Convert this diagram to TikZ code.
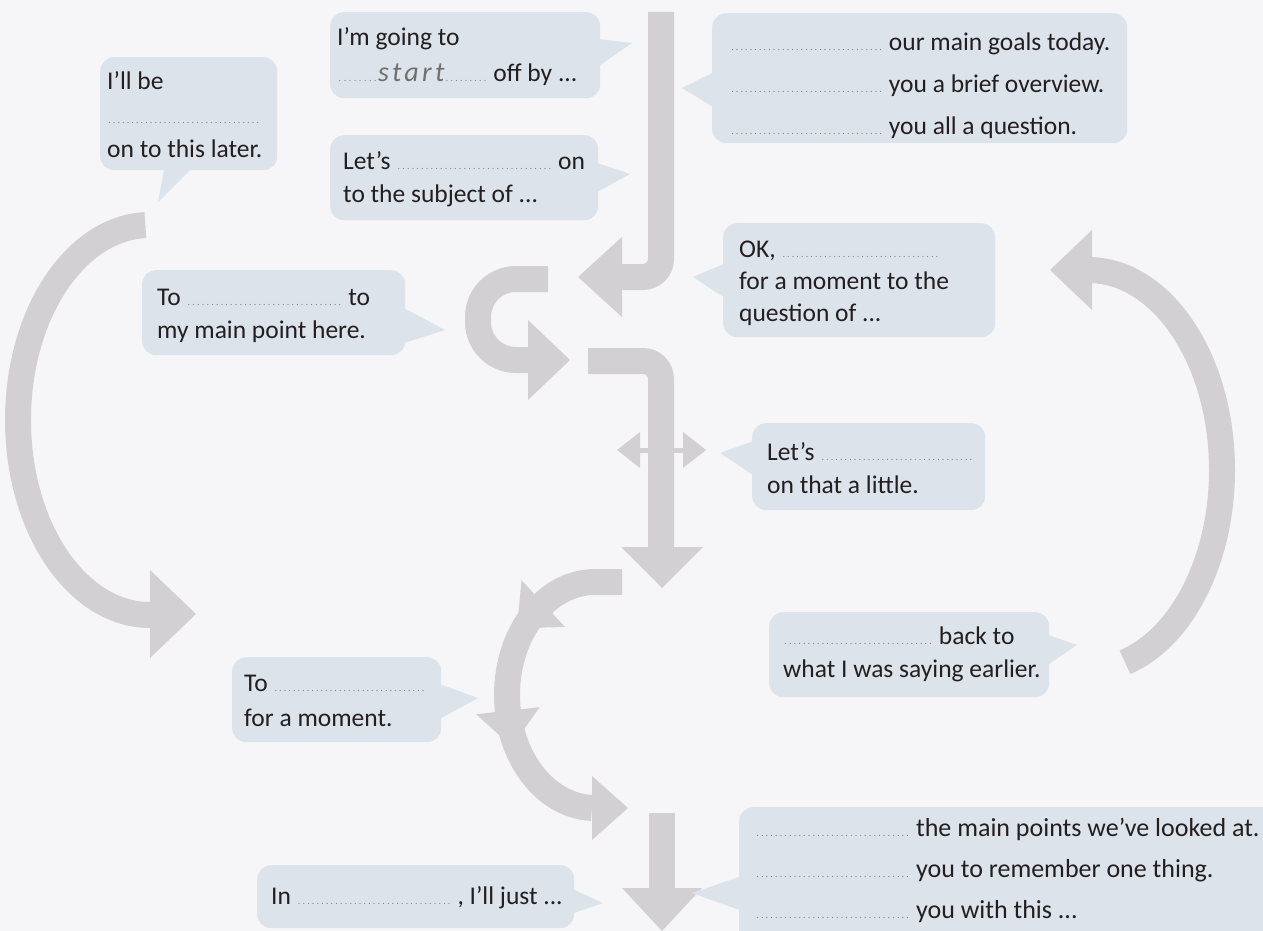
\documentclass[tikz,border=0pt]{standalone}
\usepackage{fontspec}
\setmainfont{Carlito}
\newfontfamily\handfont{Carlito}[LetterSpace=12]
\usetikzlibrary{calc}
\definecolor{bg}{HTML}{F6F6F9}
\definecolor{bub}{HTML}{DCE3EB}
\definecolor{arr}{HTML}{D3D0D3}
\definecolor{ink}{HTML}{231F20}
\definecolor{dotc}{HTML}{8A7F78}
\definecolor{hand}{HTML}{707070}
\newcommand\fillin[1]{\leavevmode{\color{dotc}\fontsize{10}{10}\selectfont\hbox to #1{\xleaders\hbox to 4.6pt{\hss.\hss}\hfil}}}
\tikzset{
  bubble/.style={fill=bub, rounded corners=14pt, inner sep=0pt, anchor=north west},
  txt/.style={inner sep=0pt, anchor=west, align=left, text=ink},
  fs/.style={font=\fontsize{25.5}{#1}\selectfont},
  arrowline/.style={draw=arr, line width=26pt},
}
\begin{document}
\begin{tikzpicture}[x=1pt,y=-1pt]
\useasboundingbox (0,0) rectangle (1263,931);
\clip (0,0) rectangle (1263,931);
\fill[bg] (0,0) rectangle (1263,931);

% ---------- arrows ----------
% big left arc
\draw[arrowline] (145.4,225.1) arc[start angle=268, end angle=90, x radius=132, y radius=195];
\fill[arr] (150,570) -- (196,614) -- (150,658) -- cycle;
% big right arc
\draw[arrowline] (1088,270) arc[start angle=-90, end angle=74, x radius=134, y radius=200];
\fill[arr] (1092,230) -- (1050,270) -- (1092,310) -- cycle;
% top L arrow (down then left)
\draw[arrowline, rounded corners=18pt] (661,12) |- (621,277);
\fill[arr] (622,237) -- (578,277) -- (622,317) -- cycle;
% C arrow
\draw[arrowline, rounded corners=38pt] (548,279) -- (478,279) -- (478,360) -- (529,360);
\fill[arr] (528,320) -- (570,360) -- (528,400) -- cycle;
% L arrow (right then down)
\draw[arrowline, rounded corners=18pt] (588,361) -| (661,548);
\fill[arr] (621,547) -- (662,588) -- (703,547) -- cycle;
% small double arrow
\draw[draw=arr, line width=5pt] (632,450) -- (692,450);
\fill[arr] (640,432) -- (617,450) -- (640,468) -- cycle;
\fill[arr] (683,432) -- (706,450) -- (683,468) -- cycle;
% lower C with three heads
\draw[arrowline] (622,582) -- (595,582) arc[start angle=270, end angle=92, x radius=88, y radius=113];
\fill[arr] (565.1,627.0) -- (517.0,628.2) -- (521.5,580.2) -- cycle;
\fill[arr] (539.7,707.2) -- (511.8,746.5) -- (476.1,714.2) -- cycle;
\fill[arr] (592,776) -- (628,808) -- (592,840) -- cycle;
% bottom down arrow
\draw[arrowline] (662,813) -- (662,890);
\fill[arr] (622,888) -- (662,931) -- (702,888) -- cycle;

% ---------- bubble tails ----------
\fill[bub] (165,165) -- (195,165) -- (158,202) -- cycle;
\fill[bub] (590,38) -- (632,43) -- (590,72) -- cycle;
\fill[bub] (588,160) -- (630,174) -- (588,197) -- cycle;
\fill[bub] (398,305) -- (445,330) -- (398,345) -- cycle;
\fill[bub] (718,70) -- (682,88) -- (718,110) -- cycle;
\fill[bub] (728,262) -- (693,277) -- (728,300) -- cycle;
\fill[bub] (756,440) -- (720,453) -- (756,477) -- cycle;
\fill[bub] (434,682) -- (478,698) -- (434,722) -- cycle;
\fill[bub] (1040,632) -- (1077,645) -- (1040,670) -- cycle;
\fill[bub] (568,887) -- (603,903) -- (568,915) -- cycle;
\fill[bub] (745,875) -- (692,893) -- (745,912) -- cycle;

% ---------- bubbles ----------
\node[bubble, minimum width=177pt, minimum height=113pt] (b1) at (100,57) {};
\node[bubble, minimum width=270pt, minimum height=86pt] (b2) at (330,12) {};
\node[bubble, minimum width=268pt, minimum height=85pt] (b3) at (330,135) {};
\node[bubble, minimum width=263pt, minimum height=85pt] (b4) at (142,270) {};
\node[bubble, minimum width=415pt, minimum height=130pt] (b5) at (712,13) {};
\node[bubble, minimum width=272pt, minimum height=114pt] (b6) at (723,223) {};
\node[bubble, minimum width=233pt, minimum height=87pt] (b7) at (752,423) {};
\node[bubble, minimum width=209pt, minimum height=85pt] (b8) at (232,657) {};
\node[bubble, minimum width=280pt, minimum height=85pt] (b9) at (769,612) {};
\node[bubble, minimum width=317pt, minimum height=63pt] (b10) at (257,865) {};
\node[bubble, minimum width=540pt, minimum height=140pt] (b11) at (739,807) {};

% ---------- texts ----------
\node[txt, fs=34] (t1) at ($(b1.west)+(7,1)$)
  {I’ll be\\\fillin{153pt}\\on to this later.};
\node[txt, fs=36] (t2) at ($(b2.west)+(7,1)$)
  {I’m going to\\\fillin{41pt}{\color{hand}\handfont\fontsize{28}{28}\selectfont\itshape start}\fillin{43pt} off by ...};
\node[txt, fs=33] (t3) at ($(b3.west)+(13,1)$)
  {Let’s \fillin{156pt} on\\to the subject of ...};
\node[txt, fs=33] (t4) at ($(b4.west)+(15,3)$)
  {To \fillin{156pt} to\\my main point here.};
\node[txt, fs=42] (t5) at ($(b5.west)+(18,8)$)
  {\fillin{153pt} our main goals today.\\\fillin{153pt} you a brief overview.\\\fillin{153pt} you all a question.};
\node[txt, fs=32] (t6) at ($(b6.west)+(16,3)$)
  {OK, \fillin{158pt}\\for a moment to the\\question of ...};
\node[txt, fs=33] (t7) at ($(b7.west)+(15,1)$)
  {Let’s \fillin{153pt}\\on that a little.};
\node[txt, fs=35] (t8) at ($(b8.west)+(12,1)$)
  {To \fillin{152pt}\\for a moment.};
\node[txt, fs=33] (t9) at ($(b9.west)+(14,0)$)
  {\fillin{150pt} back to\\what I was saying earlier.};
\node[txt, fs=33] (t10) at ($(b10.west)+(14,1)$)
  {In \fillin{155pt} , I’ll just ...};
\node[txt, font=\fontsize{26}{41}\selectfont] (t11) at ($(b11.north west)+(16,63)$)
  {\fillin{155pt} the main points we’ve looked at.\\\fillin{155pt} you to remember one thing.\\\fillin{155pt} you with this ...};
\end{tikzpicture}
\end{document}
